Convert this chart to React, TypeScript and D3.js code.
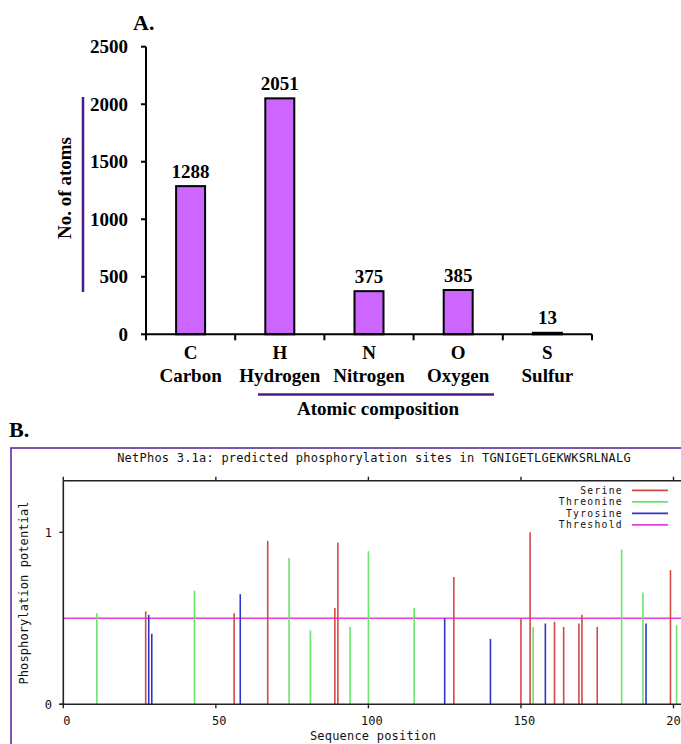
import React from 'react';
import * as d3 from 'd3';

// Panel A: atomic composition
const symbols = ['C', 'H', 'N', 'O', 'S'];
const elementNames = ['Carbon', 'Hydrogen', 'Nitrogen', 'Oxygen', 'Sulfur'];
const atomCounts = [1288, 2051, 375, 385, 13];
const countTicks = [0, 500, 1000, 1500, 2000, 2500];

// Panel B: NetPhos sites [position, potential]
const serineSites = [
  [27, 0.54], [56, 0.53], [67, 0.95], [89, 0.56], [90, 0.94], [128, 0.74],
  [150, 0.5], [153, 1.0], [161, 0.48], [164, 0.45], [169, 0.47], [170, 0.52],
  [175, 0.45], [199, 0.78],
];
const threonineSites = [
  [11, 0.53], [43, 0.66], [74, 0.85], [81, 0.43], [94, 0.45], [100, 0.89],
  [115, 0.56], [154, 0.45], [183, 0.9], [190, 0.65], [201, 0.46],
];
const tyrosineSites = [
  [28, 0.52], [29, 0.41], [58, 0.64], [125, 0.5], [140, 0.38], [158, 0.47], [191, 0.47],
];
const threshold = 0.5;
const seqTicks = [0, 50, 100, 150, 200];
const potentialTicks = [0, 1];
const legendItems = ['Serine', 'Threonine', 'Tyrosine', 'Threshold'];

const SERIF = '"Liberation Serif", "Times New Roman", serif';
const MONO = '"DejaVu Sans Mono", "Liberation Mono", monospace';
const PURPLE = '#4a1a8c';
const colors = ['#d44848', '#6ae46a', '#3434c4', '#e040e0'];

const App = () => {
  // ---- panel A scales
  const yA = d3.scaleLinear().domain([0, 2500]).range([334.3, 46.7]);
  const xA = d3.scaleBand().domain(symbols).range([146, 592]).padding(0);
  const barW = xA.bandwidth() * 0.325;
  const boundaries = [...symbols.map(s => xA(s) as number), 592];

  // ---- panel B scales
  const xB = d3.scaleLinear().domain([0, 200]).range([63.3, 673.5]);
  const yB = d3.scaleLinear().domain([0, 1]).range([704.3, 532.3]);
  const plotTop = yB(1.3);
  const plotRight = xB(207);

  const siteGroups = [serineSites, threonineSites, tyrosineSites];

  return (
    <div style={{ position: 'absolute', left: 0, top: 0 }}>
      <svg width={681} height={744} style={{ display: 'block', background: '#fff' }}>
        {/* ===== Panel A ===== */}
        <g fontFamily={SERIF} fontWeight="bold" fill="#000">
          <text x={133} y={30} fontSize={22}>A.</text>

          {/* bars */}
          {symbols.map((s, i) => {
            const cx = (xA(s) as number) + xA.bandwidth() / 2;
            return (
              <g key={s}>
                <rect
                  x={cx - barW / 2}
                  y={yA(atomCounts[i])}
                  width={barW}
                  height={Math.max(yA(0) - yA(atomCounts[i]), 1.5)}
                  fill="#cc66ff"
                  stroke="#000"
                  strokeWidth={2}
                />
                <text x={cx} y={yA(atomCounts[i]) - 8.5} fontSize={19} textAnchor="middle">
                  {atomCounts[i]}
                </text>
                <text x={cx} y={358.5} fontSize={19} textAnchor="middle">{s}</text>
                <text x={cx} y={382} fontSize={19} textAnchor="middle">{elementNames[i]}</text>
              </g>
            );
          })}

          {/* y axis */}
          <line x1={146} x2={146} y1={yA(2500)} y2={yA(0)} stroke="#000" strokeWidth={2} />
          {countTicks.map(t => (
            <g key={t}>
              <line x1={141} x2={146} y1={yA(t)} y2={yA(t)} stroke="#000" strokeWidth={2} />
              <text x={128} y={yA(t) + 6.5} fontSize={19} textAnchor="end">{t}</text>
            </g>
          ))}

          {/* x axis */}
          <line x1={146} x2={592} y1={yA(0)} y2={yA(0)} stroke="#000" strokeWidth={2} />
          {boundaries.map((b, i) => (
            <line key={i} x1={b} x2={b} y1={yA(0)} y2={yA(0) + 6} stroke="#000" strokeWidth={2} />
          ))}

          {/* axis titles */}
          <text transform="translate(71,188) rotate(-90)" fontSize={19} textAnchor="middle">
            No. of atoms
          </text>
          <line x1={83} x2={83} y1={97} y2={292} stroke={PURPLE} strokeWidth={2.5} />
          <line x1={258} x2={494} y1={394.5} y2={394.5} stroke={PURPLE} strokeWidth={2.5} />
          <text x={378} y={415} fontSize={19} textAnchor="middle">Atomic composition</text>

          <text x={9} y={437} fontSize={22}>B.</text>
        </g>

        {/* ===== Panel B ===== */}
        <rect x={11} y={448} width={700} height={320} fill="none" stroke="#5b2c9c" strokeWidth={1.6} />

        <g fontFamily={MONO} fontSize={12} fill="#111">
          <text x={374} y={462} textAnchor="middle" letterSpacing={0.22}>
            NetPhos 3.1a: predicted phosphorylation sites in TGNIGETLGEKWKSRLNALG
          </text>

          {/* threshold */}
          <line x1={xB(0)} x2={plotRight} y1={yB(threshold)} y2={yB(threshold)} stroke={colors[3]} strokeWidth={1.6} />

          {/* sites */}
          {siteGroups.map((group, gi) =>
            group.map(([pos, val], j) => (
              <line
                key={`${gi}-${j}`}
                x1={xB(pos)}
                x2={xB(pos)}
                y1={yB(0)}
                y2={yB(val)}
                stroke={colors[gi]}
                strokeWidth={1.6}
              />
            ))
          )}

          {/* frame of plot */}
          <line x1={xB(0)} x2={xB(0)} y1={plotTop} y2={yB(0)} stroke="#222" strokeWidth={1.6} />
          <line x1={xB(0)} x2={plotRight} y1={plotTop} y2={plotTop} stroke="#222" strokeWidth={1.6} />
          <line x1={xB(0) - 4} x2={plotRight} y1={yB(0)} y2={yB(0)} stroke="#222" strokeWidth={1.6} />

          {seqTicks.map(t => (
            <g key={t}>
              <line x1={xB(t)} x2={xB(t)} y1={plotTop} y2={plotTop - 4} stroke="#222" strokeWidth={1.4} />
              <line x1={xB(t)} x2={xB(t)} y1={yB(0)} y2={yB(0) + 4} stroke="#222" strokeWidth={1.4} />
              <text x={xB(t) + 3.5} y={725} textAnchor="middle">{t}</text>
            </g>
          ))}
          {potentialTicks.map(t => (
            <g key={t}>
              <line x1={xB(0) - 4} x2={xB(0)} y1={yB(t)} y2={yB(t)} stroke="#222" strokeWidth={1.4} />
              <text x={52} y={yB(t) + 4.5} textAnchor="end">{t}</text>
            </g>
          ))}

          <text x={373} y={740} textAnchor="middle" letterSpacing={0.2}>Sequence position</text>
          <text transform="translate(27.5,593) rotate(-90)" textAnchor="middle" letterSpacing={0.1}>
            Phosphorylation potential
          </text>

          {/* legend */}
          {legendItems.map((name, i) => {
            const y = 490.4 + i * 11.5;
            return (
              <g key={name}>
                <text x={623} y={y + 3.5} fontSize={9.7} letterSpacing={1.3} textAnchor="end">{name}</text>
                <line x1={632} x2={668} y1={y} y2={y} stroke={colors[i]} strokeWidth={1.6} />
              </g>
            );
          })}
        </g>
      </svg>
    </div>
  );
};

export default App;
